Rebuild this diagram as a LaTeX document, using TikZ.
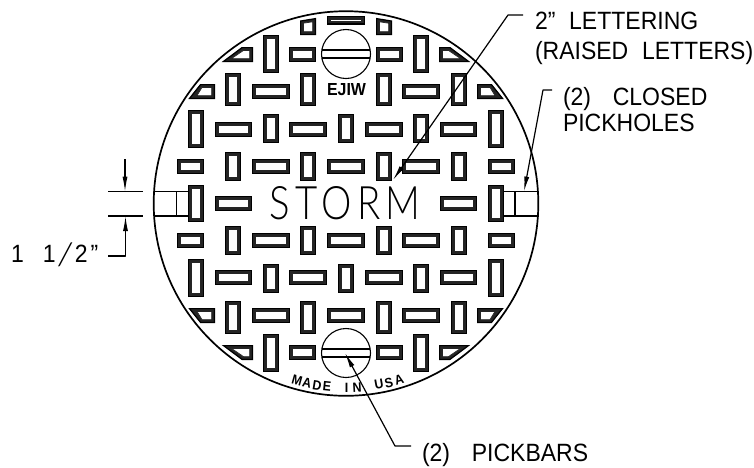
\documentclass[tikz,border=0pt]{standalone}
\usepackage{fontspec}
\setmainfont{Liberation Sans}
\newfontfamily\thinfont{Lato Light}[LetterSpace=14]
\newfontfamily\slashfont{Lato Light}
\newfontfamily\labfont{Liberation Sans}[FakeStretch=0.92]
\usetikzlibrary{arrows.meta}
\tikzset{
  slotouter/.style={draw=black,line width=1.2pt,fill=black!86,line join=miter},
  slotinner/.style={draw=black!85,line width=.7pt,fill=white,line join=miter},
  leader/.style={draw=black,line width=1.2pt,line join=round},
  tipped/.style={leader,-{Latex[length=15pt,width=5pt]}},
  edge/.style={draw=black,line width=1.1pt},
  rim/.style={draw=black,line width=1.7pt},
  lab/.style={anchor=base west,inner sep=0pt,outer sep=0pt,font=\fontsize{25}{25}\labfont},
  arcletter/.style={inner sep=0pt,font=\fontsize{13.5}{13.5}\labfont\bfseries},
}
\newcommand\slotrect[4]{%
  \filldraw[slotouter] ({#1+.6},{#3+.6}) rectangle ({#2-.6},{#4-.6});
  \filldraw[slotinner] ({#1+3.2},{#3+3.2}) rectangle ({#2-3.2},{#4-3.2});}
\begin{document}
\begin{tikzpicture}[x=1pt,y=-1pt]
\useasboundingbox (0,0) rectangle (754,467);
\foreach \mx/\my in {1/1,-1/1,1/-1,-1/-1}{
  \begin{scope}[shift={(346,203.5)},xscale=\mx,yscale=\my,shift={(-346,-203.5)}]
    \foreach \a/\b/\c/\d in {263/279/35/73,289/316/47/62,
      225/241/73/106,252/290/84/99,300/316/73/106,
      188/204/110/148,215/252/122/137,263/279/114/143,289/327/122/137,338/354/114/143,
      177/204/159/174,225/241/152/181,252/290/159/174,300/316/152/181,327/365/159/174,
      188/204/185/222,215/252/196/211}{\slotrect{\a}{\b}{\c}{\d}}
    \filldraw[slotouter] (223.5,61.4) -- (252.4,61.4) -- (252.4,47.6) -- (242,47.6) -- cycle;
    \filldraw[slotinner] (231.5,58.6) -- (249.6,58.6) -- (249.6,50.4) -- (243.5,50.4) -- cycle;
    \filldraw[slotouter] (189.5,98.4) -- (214.4,98.4) -- (214.4,84.6) -- (200.5,84.6) -- cycle;
    \filldraw[slotinner] (197,95.6) -- (211.6,95.6) -- (211.6,87.4) -- (202,87.4) -- cycle;
  \end{scope}}
\slotrect{327}{365}{308}{323}
\foreach \mx in {1,-1}{
  \begin{scope}[shift={(346,0)},xscale=\mx,shift={(-346,0)}]
    \filldraw[slotouter] (300.6,21) -- (315.4,18.6) -- (315.4,34.4) -- (300.6,34.4) -- cycle;
    \filldraw[slotinner] (303.4,23.2) -- (312.6,21.8) -- (312.6,31.6) -- (303.4,31.6) -- cycle;
  \end{scope}}
\filldraw[slotouter] (327.6,16.6) rectangle (364.4,23.9);
\filldraw[slotinner] (330.2,19) rectangle (361.8,21.6);
% main rim and pickbar circles
\draw[rim] (346,203.5) circle[radius=192.3];
\foreach \cy in {54,353}{
  \draw[edge] (346,\cy) circle[radius=24.5];
  \draw[edge] (322,{\cy-4}) -- (370,{\cy-4}) (322,{\cy+4}) -- (370,{\cy+4});
}
% pickholes
\draw[edge] (153.5,191.7) -- (188,191.7) (153.5,216) -- (188,216) (176.7,191.7) -- (176.7,216);
\draw[edge] (504,191.7) -- (538.5,191.7) (504,216) -- (538.5,216) (515,191.7) -- (515,216);
% dimension
\coordinate (dimA) at (108,191.7); \coordinate (dimB) at (143,191.7);
\coordinate (dimC) at (108,216); \coordinate (dimD) at (143,216);
\draw[leader] (dimA) -- (dimB) (dimC) -- (dimD);
\coordinate (dimtop) at (125,159);
\coordinate (dimtoptip) at (125,191.7);
\coordinate (dimbottip) at (125.5,216);
\coordinate (dimknee) at (125.5,256);
\coordinate (dimend) at (108,256);
% texts
\node[inner sep=0pt] (storm) at (345,203.3) {\resizebox{151pt}{33pt}{\thinfont STORM}};
\node[inner sep=0pt] (ejiw) at (346.5,90) {\resizebox{39pt}{12pt}{\bfseries EJIW}};
\node[lab] (dimtext) at (11,262) {1\hspace{19pt}1\hspace{1pt}\raisebox{-3pt}{\scalebox{1.6}[1.25]{\slashfont /}}\hspace{1pt}2\hspace{3pt}”};
\node[lab] (lettering) at (535,29) {2”\hspace{.55em}LETTERING};
\node[lab] (raised) at (535,59) {(RAISED\hspace{.55em}LETTERS)};
\node[lab] (closed) at (563,105) {(2)\hspace{.87em}CLOSED};
\node[lab] (pickholes) at (563,131) {PICKHOLES};
\node[lab] (pickbars) at (422,461.5) {(2)\hspace{.87em}PICKBARS};
\foreach \ch/\t in {M/-15.6,A/-12.4,D/-9.2,E/-6.1,I/0,N/3.3,U/10.2,S/13.3,A/16.6}{
  \node[arcletter,rotate=\t] at ({346.5+184*sin(\t)},{203.5+184*cos(\t)}) {\ch};
}
% leaders
\draw[tipped] (dimend) -- (dimknee) -- (dimbottip);
\draw[tipped] (dimtop) -- (dimtoptip);
\coordinate (k1) at (508,15);
\coordinate (k1t) at (393,180);
\draw[tipped] (lettering.west |- k1) ++(-12,0) -- (k1) -- (k1t);
\coordinate (k2) at (543,90);
\coordinate (k2t) at (524,191.5);
\draw[tipped] (closed.west |- k2) ++(-11,0) -- (k2) -- (k2t);
\coordinate (k3) at (395,446);
\coordinate (k3t) at (345,353);
\draw[tipped] (pickbars.west |- k3) ++(-11,0) -- (k3) -- (k3t);
\end{tikzpicture}
\end{document}
